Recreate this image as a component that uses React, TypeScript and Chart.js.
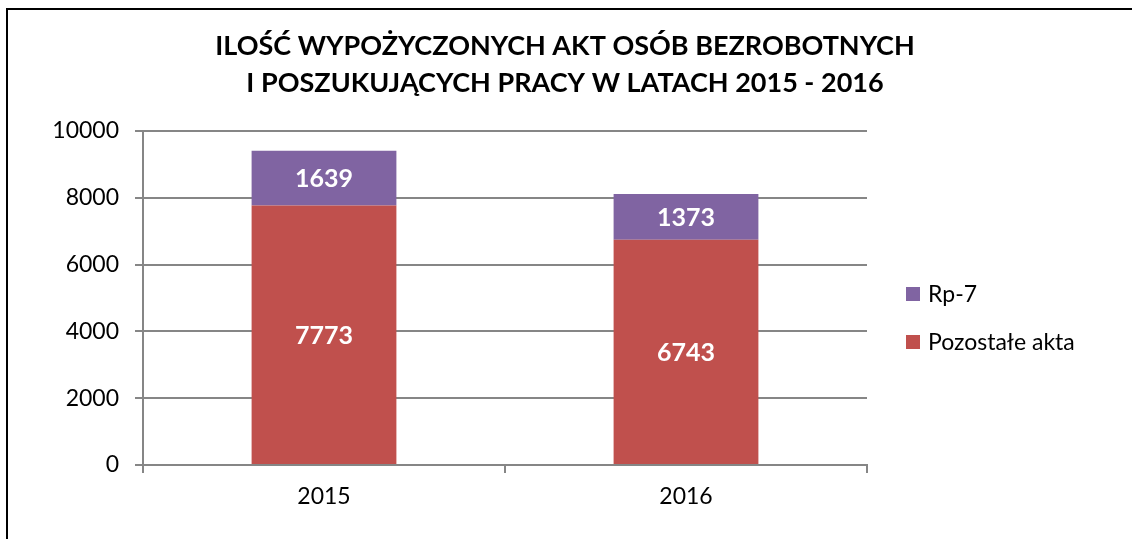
import React, { useEffect, useRef } from "react";
import { Chart, registerables } from "chart.js";

Chart.register(...registerables);

const categories = ["2015", "2016"];
const pozostaleAkta = [7773, 6743];
const rp7 = [1639, 1373];
const seriesLabels = ["Pozostałe akta", "Rp-7"];
const yTickValues = [0, 2000, 4000, 6000, 8000, 10000];
const titleLines = [
  "ILOŚĆ WYPOŻYCZONYCH AKT OSÓB BEZROBOTNYCH",
  "I POSZUKUJĄCYCH PRACY W LATACH 2015 - 2016",
];

const FONT = "Lato, 'Open Sans', sans-serif";

const framePlugin = {
  id: "frame",
  beforeDraw(chart: any) {
    const ctx = chart.ctx;
    ctx.save();
    ctx.fillStyle = "#ffffff";
    ctx.fillRect(0, 0, chart.width, chart.height);
    ctx.strokeStyle = "#000000";
    ctx.lineWidth = 2;
    ctx.beginPath();
    ctx.moveTo(7, chart.height + 5);
    ctx.lineTo(7, 9);
    ctx.lineTo(chart.width + 5, 9);
    ctx.stroke();
    ctx.restore();
  },
};

const titlePlugin = {
  id: "customTitle",
  afterDraw(chart: any) {
    const ctx = chart.ctx;
    ctx.save();
    ctx.fillStyle = "#000000";
    ctx.font = `bold 27px ${FONT}`;
    ctx.textAlign = "center";
    ctx.textBaseline = "middle";
    titleLines.forEach((line, i) => {
      ctx.fillText(line, 565, 46 + i * 37);
    });
    ctx.restore();
  },
};

const valueLabelPlugin = {
  id: "valueLabels",
  afterDatasetsDraw(chart: any) {
    const ctx = chart.ctx;
    ctx.save();
    ctx.fillStyle = "#ffffff";
    ctx.font = `bold 25px ${FONT}`;
    ctx.textAlign = "center";
    ctx.textBaseline = "middle";
    chart.data.datasets.forEach((ds: any, i: number) => {
      const meta = chart.getDatasetMeta(i);
      meta.data.forEach((el: any, j: number) => {
        const y = (el.y + el.base) / 2;
        ctx.fillText(String(ds.data[j]), el.x, y + 1);
      });
    });
    ctx.restore();
  },
};

const legendPlugin = {
  id: "customLegend",
  afterDraw(chart: any) {
    const ctx = chart.ctx;
    ctx.save();
    ctx.font = `23px ${FONT}`;
    ctx.textBaseline = "middle";
    ctx.textAlign = "left";
    const items = [...chart.data.datasets].reverse();
    items.forEach((ds: any, k: number) => {
      const cy = 294 + k * 48;
      ctx.fillStyle = ds.backgroundColor;
      ctx.fillRect(906, cy - 7, 14, 14);
      ctx.fillStyle = "#000000";
      ctx.fillText(ds.label, 928, cy + 1);
    });
    ctx.restore();
  },
};

export default function App() {
  const ref = useRef<HTMLCanvasElement>(null);
  useEffect(() => {
    const canvas = ref.current!;
    const chart = new Chart(canvas, {
      type: "bar",
      data: {
        labels: categories,
        datasets: [
          {
            label: seriesLabels[0],
            data: pozostaleAkta,
            backgroundColor: "#C0504D",
            borderWidth: 0,
            categoryPercentage: 1,
            barPercentage: 0.4,
          },
          {
            label: seriesLabels[1],
            data: rp7,
            backgroundColor: "#8064A2",
            borderWidth: 0,
            categoryPercentage: 1,
            barPercentage: 0.4,
          },
        ],
      },
      options: {
        responsive: false,
        animation: false,
        layout: { padding: { left: 0, right: 265, top: 131, bottom: 0 } },
        plugins: {
          legend: { display: false },
          tooltip: { enabled: false },
          title: { display: false },
        },
        scales: {
          x: {
            stacked: true,
            grid: {
              display: true,
              drawOnChartArea: false,
              drawTicks: true,
              tickLength: 8,
              color: "#868686",
              lineWidth: 2,
            },
            border: { display: true, color: "#868686", width: 2 },
            ticks: {
              color: "#000000",
              font: { family: FONT, size: 23 },
              padding: 10,
            },
            afterFit(s: any) {
              s.height = 74;
            },
          },
          y: {
            stacked: true,
            min: yTickValues[0],
            max: yTickValues[yTickValues.length - 1],
            ticks: {
              stepSize: yTickValues[1] - yTickValues[0],
              color: "#000000",
              font: { family: FONT, size: 23 },
              padding: 16,
              callback: (v: any) => String(v),
            },
            grid: {
              color: "#868686",
              lineWidth: 2,
              tickLength: 8,
            },
            border: { display: true, color: "#868686", width: 2 },
            afterFit(s: any) {
              s.width = 143;
            },
          },
        },
      },
      plugins: [framePlugin, titlePlugin, valueLabelPlugin, legendPlugin],
    });
    return () => chart.destroy();
  }, []);
  return (
    <canvas
      ref={ref}
      width={1132}
      height={539}
      style={{ position: "fixed", left: 0, top: 0, width: 1132, height: 539 }}
    />
  );
}
